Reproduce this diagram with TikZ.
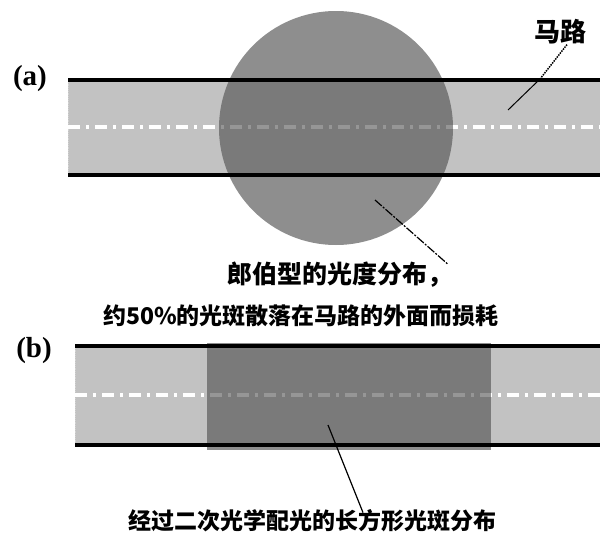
\documentclass[tikz,border=0pt]{standalone}
\usepackage{fontspec}
\newfontfamily\cjk{Noto Sans CJK SC}
\newfontfamily\lbl{Liberation Serif}
\definecolor{roadgray}{HTML}{C2C2C2}
\definecolor{hatchgray}{HTML}{8E8E8E}
\definecolor{shade}{HTML}{3A3A3A}
\begin{document}
\begin{tikzpicture}[x=1pt,y=-1pt,
  border/.style={line width=3.4pt, black},
  edge/.style={line width=0.8pt, gray!35, densely dotted},
  centerline/.style={white, line width=3.2pt, dash pattern=on 12pt off 6pt on 3pt off 6pt},
  shadefill/.style={fill=shade, fill opacity=0.53},
  hatchfill/.style={fill=hatchgray},
  fringe/.style={fill=hatchgray},
  panel/.style={font=\lbl\bfseries\fontsize{29}{31}\selectfont, inner sep=0},
  cjktext/.style={font=\cjk\bfseries\fontsize{23}{26}\selectfont, inner sep=0},
  leader/.style={line width=1.2pt, black}
]
\useasboundingbox (0,0) rectangle (600,538);
\fill[white] (0,0) rectangle (600,538);

% ---------- (a) ----------
\node[panel] (la) at (30,79) {(a)};
\fill[roadgray] (68,80) rectangle (600,175);
\draw[edge] (68,80) -- (68,175);
\draw[centerline] (68,127) -- (600,127);
\node[circle, minimum size=234pt, inner sep=0] (spot) at (336,128) {};
\begin{scope}
  \clip (0,0) rectangle (600,80) (0,175) rectangle (600,538);
  \fill[hatchfill] (336,128) circle[radius=117];
\end{scope}
\begin{scope}
  \clip (68,80) rectangle (600,175);
  \fill[shadefill] (336,128) circle[radius=117];
\end{scope}
\draw[border] (68,80) -- (600,80);
\draw[border] (68,175) -- (600,175);

\node[cjktext, font=\cjk\bfseries\fontsize{26}{28}\selectfont] (road) at (560,32) {马路};
\coordinate (rk) at (540,79);
\coordinate (rp) at (508,110);
\draw[line width=1.5pt, densely dotted] ([xshift=7pt]road.south) -- (rk);
\draw[leader, line width=1pt] (rk) -- (rp);

\coordinate (sa) at (375,200);
\node[cjktext, font=\cjk\bfseries\fontsize{25}{28}\selectfont] (t1a) at (340,275) {郎伯型的光度分布，};
\node[cjktext] (t1b) at (301,316) {约50\%的光斑散落在马路的外面而损耗};
\draw[leader, dash pattern=on 9pt off 1.5pt on 2pt off 1.5pt] (sa) -- ([xshift=-5pt,yshift=-2pt]t1a.north east);

% ---------- (b) ----------
\node[panel] (lb) at (34,351) {(b)};
\fill[roadgray] (75,346) rectangle (600,445);
\draw[edge] (75,346) -- (75,445);
\draw[centerline] (75,395) -- (600,395);
\fill[fringe] (207,342.5) rectangle (491,346);
\fill[fringe] (207,445) rectangle (491,449.5);
\node[shadefill, minimum width=284pt, minimum height=99pt, inner sep=0] (rect) at (349,395.5) {};
\draw[border] (75,346) -- (600,346);
\draw[border] (75,445) -- (600,445);

\coordinate (sb) at (328,425);
\node[cjktext] (t2) at (312,521) {经过二次光学配光的长方形光斑分布};
\draw[leader] (sb) -- ([xshift=51pt,yshift=-3pt]t2.north);
\end{tikzpicture}
\end{document}
